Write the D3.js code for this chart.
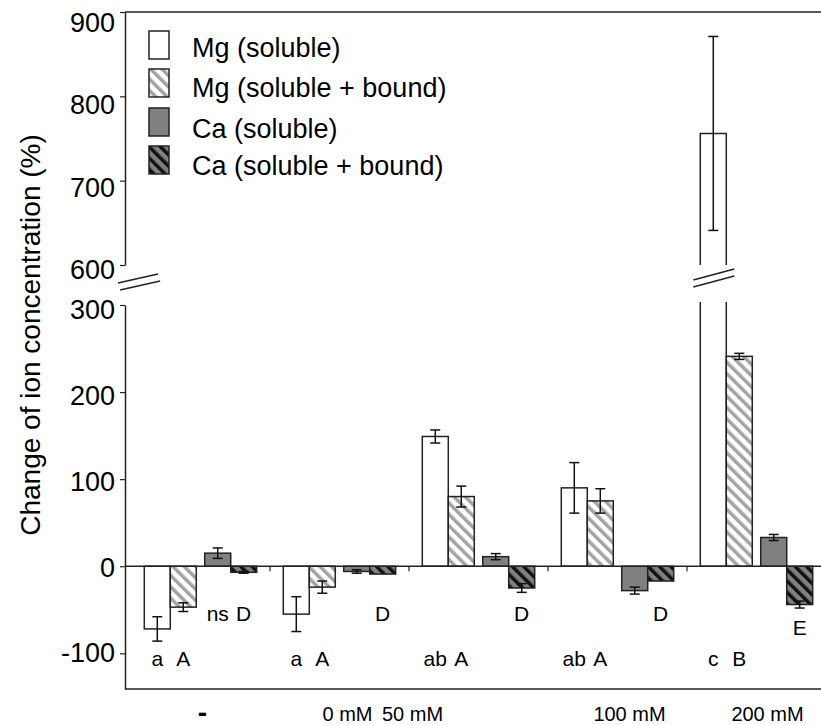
<!DOCTYPE html>
<html>
<head>
<meta charset="utf-8">
<script src="https://cdn.jsdelivr.net/npm/d3@7"></script>
<style>
  body { margin: 0; background: #fff; }
  text { font-family: Arial, "Liberation Sans", sans-serif; fill: #000; }
</style>
</head>
<body>
<svg id="chart" width="821" height="725"></svg>
<script>
// Treatments and series
const groups = ["-", "0 mM", "50 mM", "100 mM", "200 mM"];
const seriesNames = ["Mg (soluble)", "Mg (soluble + bound)", "Ca (soluble)", "Ca (soluble + bound)"];

// Values (% change), with error bars
const mgSoluble = [-72, -55, 149, 90, 756];
const mgSolubleErr = [14, 20, 7.5, 29, 115];
const mgBound = [-47, -24, 80, 75, 241];
const mgBoundErr = [5, 7, 12, 14, 3.5];
const caSoluble = [15, -6, 11, -28, 33];
const caSolubleErr = [6, 2, 3.5, 4, 3.5];
const caBound = [-7, -9, -25, -17, -44];
const caBoundErr = [1, 0, 5, 0, 4];

// Significance letters
const mgSolubleLetters = ["a", "a", "ab", "ab", "c"];
const mgBoundLetters = ["A", "A", "A", "A", "B"];
const caSolubleLetters = ["ns", "", "", "", ""];
const caBoundLetters = ["D", "D", "D", "D", "E"];

// Axis ticks for the broken y axis
const lowTicks = [-100, 0, 100, 200, 300];
const highTicks = [600, 700, 800, 900];

// x label nudges (labels in the original are not centred)
const labelNudge = [2, 8, -66, 12, 11];

const svg = d3.select("#chart");
const axisX = 125;
const rightEdge = 821;

const yLow = d3.scaleLinear().domain([-141, 300]).range([689, 305]);
const yHigh = d3.scaleLinear().domain([600, 900]).range([265, 12]);

const xGroup = d3.scaleBand().domain(groups).range([131, 826]);
const xPair = d3.scaleBand().domain(["Mg", "Ca"]).range([0, xGroup.bandwidth()])
  .paddingInner(0.14).paddingOuter(0.22);
const barW = xPair.bandwidth() / 2;

// hatch patterns
const defs = svg.append("defs");
function hatch(id, bg, fg, sw) {
  const p = defs.append("pattern")
    .attr("id", id)
    .attr("patternUnits", "userSpaceOnUse")
    .attr("width", 8).attr("height", 8)
    .attr("patternTransform", "rotate(-45)");
  p.append("rect").attr("width", 8).attr("height", 8).attr("fill", bg);
  p.append("rect").attr("x", 0).attr("width", sw).attr("height", 8).attr("fill", fg);
}
hatch("mgHatch", "#fff", "#a3a3a3", 3.5);
hatch("caHatch", "#808080", "#111", 3.5);

const fills = ["#fff", "url(#mgHatch)", "#808080", "url(#caHatch)"];

const series = [
  { values: mgSoluble, err: mgSolubleErr, letters: mgSolubleLetters, pair: "Mg", sub: 0 },
  { values: mgBound, err: mgBoundErr, letters: mgBoundLetters, pair: "Mg", sub: 1 },
  { values: caSoluble, err: caSolubleErr, letters: caSolubleLetters, pair: "Ca", sub: 0 },
  { values: caBound, err: caBoundErr, letters: caBoundLetters, pair: "Ca", sub: 1 }
];

const barX = (s, i) => xGroup(groups[i]) + xPair(s.pair) + s.sub * barW;

// frame lines
svg.append("line")
  .attr("x1", axisX).attr("x2", rightEdge)
  .attr("y1", yHigh(900)).attr("y2", yHigh(900))
  .attr("stroke", "#222").attr("stroke-width", 1.5);
svg.append("line")
  .attr("x1", axisX).attr("x2", rightEdge)
  .attr("y1", yLow(-141)).attr("y2", yLow(-141))
  .attr("stroke", "#222").attr("stroke-width", 1.5);

// y axes; labels sit a little below their ticks in the original
function styleAxis(g, shift) {
  g.select(".domain").attr("stroke", "#222").attr("stroke-width", 1.5);
  g.selectAll(".tick line").attr("stroke", "#222").attr("stroke-width", 1.2);
  g.selectAll(".tick text")
    .style("font-family", "Arial, 'Liberation Sans', sans-serif")
    .style("font-size", "27px").attr("fill", "#000")
    .attr("y", d => shift(d));
}
svg.append("g")
  .attr("transform", `translate(${axisX},0)`)
  .call(d3.axisLeft(yLow).tickValues(lowTicks).tickSize(5).tickSizeOuter(0).tickPadding(5)
    .tickFormat(d => String(d)))
  .call(styleAxis, d => (d + 100) / 400 * 5);
svg.append("g")
  .attr("transform", `translate(${axisX},0)`)
  .call(d3.axisLeft(yHigh).tickValues(highTicks).tickSize(5).tickSizeOuter(0).tickPadding(5)
    .tickFormat(d => String(d)))
  .call(styleAxis, d => 5 + (d - 600) / 300 * 6);

// bars
const barsG = svg.append("g");
series.forEach((s, k) => {
  s.values.forEach((v, i) => {
    const x0 = barX(s, i), x1 = x0 + barW;
    if (v <= 300) {
      const yA = yLow(Math.max(v, 0)), yB = yLow(Math.min(v, 0));
      barsG.append("rect")
        .attr("x", x0).attr("y", yA)
        .attr("width", barW).attr("height", yB - yA)
        .attr("fill", fills[k]).attr("stroke", "#222").attr("stroke-width", 1.5);
    } else {
      // broken bar: lower part open at top, upper part open at bottom
      barsG.append("rect")
        .attr("x", x0).attr("y", yLow(300))
        .attr("width", barW).attr("height", yLow(0) - yLow(300))
        .attr("fill", fills[k]);
      barsG.append("path")
        .attr("d", `M${x0},${yLow(300) - 3}V${yLow(0)}H${x1}V${yLow(300) - 3}`)
        .attr("fill", "none").attr("stroke", "#222").attr("stroke-width", 1.5);
      barsG.append("rect")
        .attr("x", x0).attr("y", yHigh(v))
        .attr("width", barW).attr("height", yHigh(600) - yHigh(v))
        .attr("fill", fills[k]);
      barsG.append("path")
        .attr("d", `M${x0},${yHigh(600)}V${yHigh(v)}H${x1}V${yHigh(600)}`)
        .attr("fill", "none").attr("stroke", "#222").attr("stroke-width", 1.5);
      // break marks across the bar
      [0, 7].forEach(off => {
        barsG.append("line")
          .attr("x1", x0 - 7).attr("y1", 280 + off)
          .attr("x2", x1 + 8).attr("y2", 269 + off)
          .attr("stroke", "#222").attr("stroke-width", 1.5);
      });
    }
  });
});

// zero line with group separators
svg.append("line")
  .attr("x1", axisX).attr("x2", rightEdge)
  .attr("y1", yLow(0)).attr("y2", yLow(0))
  .attr("stroke", "#222").attr("stroke-width", 1.5);
svg.append("g").selectAll("line")
  .data(groups.slice(1))
  .join("line")
  .attr("x1", d => xGroup(d)).attr("x2", d => xGroup(d))
  .attr("y1", yLow(0)).attr("y2", yLow(0) + 5)
  .attr("stroke", "#222").attr("stroke-width", 1.2);

// axis break marks
[0, 7].forEach(off => {
  svg.append("line")
    .attr("x1", 118 + off * 0.3).attr("y1", 283 + off)
    .attr("x2", 158 + off * 0.3).attr("y2", 274 + off)
    .attr("stroke", "#222").attr("stroke-width", 1.5);
});

// error bars
const errG = svg.append("g").attr("stroke", "#111").attr("stroke-width", 1.5);
const capW = 5;
series.forEach(s => {
  s.values.forEach((v, i) => {
    if (!s.err[i]) return;
    const cx = barX(s, i) + barW / 2;
    const yS = v > 300 ? yHigh : yLow;
    const yTop = yS(v + s.err[i]), yBot = yS(v - s.err[i]);
    errG.append("line").attr("x1", cx).attr("x2", cx).attr("y1", yTop).attr("y2", yBot);
    errG.append("line").attr("x1", cx - capW).attr("x2", cx + capW).attr("y1", yTop).attr("y2", yTop);
    errG.append("line").attr("x1", cx - capW).attr("x2", cx + capW).attr("y1", yBot).attr("y2", yBot);
  });
});

// significance letters
const lettersG = svg.append("g")
  .attr("text-anchor", "middle")
  .style("font-size", "21px");
series.forEach(s => {
  s.letters.forEach((t, i) => {
    if (!t) return;
    const cx = barX(s, i) + barW / 2;
    let y;
    if (s.pair === "Mg") {
      y = 666;
    } else {
      const bottom = yLow(Math.min(s.values[i] - s.err[i], 0));
      y = Math.max(621, bottom + 27);
    }
    lettersG.append("text").attr("x", cx).attr("y", y).text(t);
  });
});

// x labels
svg.append("g")
  .attr("text-anchor", "middle")
  .selectAll("text")
  .data(groups)
  .join("text")
  .attr("x", (d, i) => xGroup(d) + xGroup.bandwidth() / 2 + labelNudge[i])
  .attr("y", d => d === "-" ? 722 : 721)
  .style("font-size", d => d === "-" ? "28px" : "20px")
  .style("font-weight", d => d === "-" ? "bold" : "normal")
  .text(d => d);

// y title
svg.append("text")
  .attr("transform", "rotate(-90)")
  .attr("x", -335).attr("y", 40)
  .attr("text-anchor", "middle")
  .style("font-size", "28px")
  .text("Change of ion concentration (%)");

// legend
const legend = svg.append("g");
const legendBoxY = [31, 69, 108, 146];
const legendTextY = [57, 97, 138, 175];
seriesNames.forEach((name, k) => {
  legend.append("rect")
    .attr("x", 149).attr("y", legendBoxY[k])
    .attr("width", 20).attr("height", 28)
    .attr("fill", fills[k]).attr("stroke", "#222").attr("stroke-width", 1.5);
  legend.append("text")
    .attr("x", 192).attr("y", legendTextY[k])
    .style("font-size", "27px")
    .text(name);
});
</script>
</body>
</html>
